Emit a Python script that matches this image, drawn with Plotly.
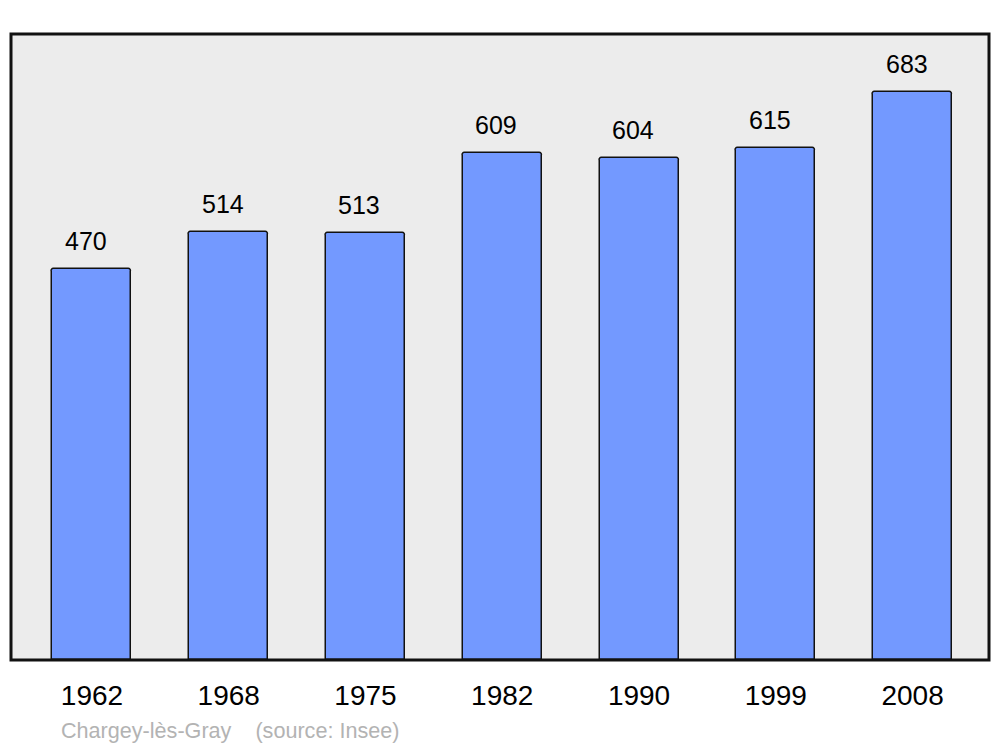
import plotly.graph_objects as go

years = ["1962", "1968", "1975", "1982", "1990", "1999", "2008"]
population = [470, 514, 513, 609, 604, 615, 683]
title_note = "Chargey-lès-Gray    (source: Insee)"

# page body has an 8px margin: figure is drawn at (8, 8)
W, H = 992, 739
L, T, R, B = 3, 26, 11, 87
pw, ph = W - L - R, H - T - B

fig = go.Figure()
fig.add_trace(go.Bar(
    x=years, y=population, width=0.578,
    marker=dict(color="#7399ff", line=dict(color="#111111", width=1.5), cornerradius=3),
    hoverinfo="skip",
))

for i, val in enumerate(population):
    fig.add_annotation(x=i, y=val, text=str(val), showarrow=False,
                       yanchor="bottom", yshift=12, xshift=-6,
                       font=dict(family="Liberation Sans, Arial", size=25, color="#000"))

fig.add_annotation(xref="paper", yref="paper", x=(59 - 11) / pw, y=(660 - 730) / ph,
                   xanchor="left", yanchor="middle", text=title_note, showarrow=False,
                   font=dict(family="Liberation Sans, Arial", size=21.6, color="#b3b3b3"))

fig.add_shape(type="rect", xref="paper", yref="paper", x0=0, y0=0, x1=1, y1=1,
              line=dict(color="#111111", width=3), fillcolor="rgba(0,0,0,0)", layer="above")

fig.update_layout(
    width=W, height=H,
    margin=dict(l=L, r=R, t=T, b=B),
    paper_bgcolor="white", plot_bgcolor="#ececec",
    showlegend=False, bargap=0,
    font=dict(family="Liberation Sans, Arial", color="#000"),
)
fig.update_xaxes(type="category", range=[-0.592, 6.559], showgrid=False, zeroline=False,
                 showline=False, ticks="", tickfont=dict(size=28), ticklabelstandoff=16)
fig.update_yaxes(range=[0, 752.5], showgrid=False, zeroline=False, showline=False,
                 showticklabels=False, ticks="")

fig.write_html("out.html")
